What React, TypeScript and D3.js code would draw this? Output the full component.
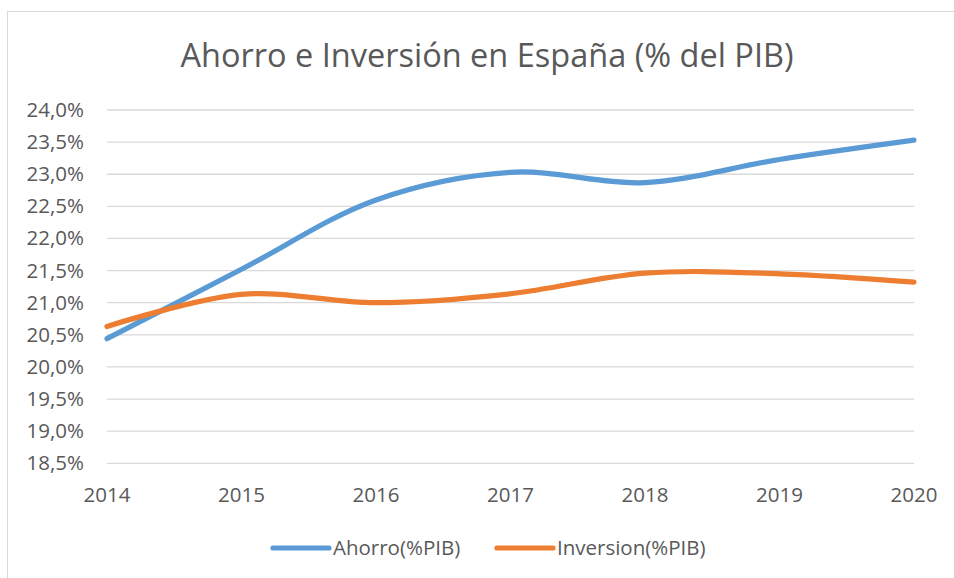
import React from "react";
import * as d3 from "d3";

const years = ["2014", "2015", "2016", "2017", "2018", "2019", "2020"];
const ahorro = [20.44, 21.52, 22.6, 23.03, 22.87, 23.23, 23.53];
const inversion = [20.63, 21.13, 21.0, 21.14, 21.46, 21.45, 21.32];
const yTicks = [18.5, 19, 19.5, 20, 20.5, 21, 21.5, 22, 22.5, 23, 23.5, 24];
const seriesNames = ["Ahorro(%PIB)", "Inversion(%PIB)"];
const colors = ["#5B9BD5", "#ED7D31"];
const title = "Ahorro e Inversión en España (% del PIB)";

const W = 954;
const H = 578;
const FONT = "'Open Sans', sans-serif";
const TEXT = "#595959";

export default function App() {
  const x = d3.scalePoint<string>().domain(years).range([107, 914]);
  const y = d3.scaleLinear().domain([18.5, 24]).range([463.3, 110]);
  const line = d3
    .line<number>()
    .x((_, i) => x(years[i]) as number)
    .y((d) => y(d))
    .curve(d3.curveCatmullRom.alpha(0.5));
  const fmt = (v: number) => v.toFixed(1).replace(".", ",") + "%";
  const series = [ahorro, inversion];

  return (
    <svg
      width={W}
      height={H}
      style={{ position: "absolute", left: 0, top: 0, background: "#fff" }}
      fontFamily={FONT}
    >
      <rect x={7.5} y={11.5} width={W + 20} height={H + 20} fill="#fff" stroke="#D9D9D9" strokeWidth={1} />
      <text x={487} y={67} textAnchor="middle" fontSize={32.5} fill={TEXT}>
        {title}
      </text>
      {yTicks.map((t) => (
        <g key={t}>
          <line x1={107} x2={914} y1={y(t)} y2={y(t)} stroke="#D9D9D9" strokeWidth={1.3} />
          <text x={84} y={y(t) + 7} textAnchor="end" fontSize={20.5} fill={TEXT}>
            {fmt(t)}
          </text>
        </g>
      ))}
      {years.map((yr) => (
        <text key={yr} x={x(yr)} y={502} textAnchor="middle" fontSize={20.5} fill={TEXT}>
          {yr}
        </text>
      ))}
      {series.map((s, i) => (
        <path
          key={i}
          d={line(s) || ""}
          fill="none"
          stroke={colors[i]}
          strokeWidth={5.2}
          strokeLinecap="round"
          strokeLinejoin="round"
        />
      ))}
      {seriesNames.map((n, i) => {
        const lx = i === 0 ? 273 : 497;
        return (
          <g key={n}>
            <line x1={lx} x2={lx + 56} y1={548} y2={548} stroke={colors[i]} strokeWidth={5.2} strokeLinecap="round" />
            <text x={lx + 60} y={555} fontSize={20.5} fill={TEXT}>
              {n}
            </text>
          </g>
        );
      })}
    </svg>
  );
}
